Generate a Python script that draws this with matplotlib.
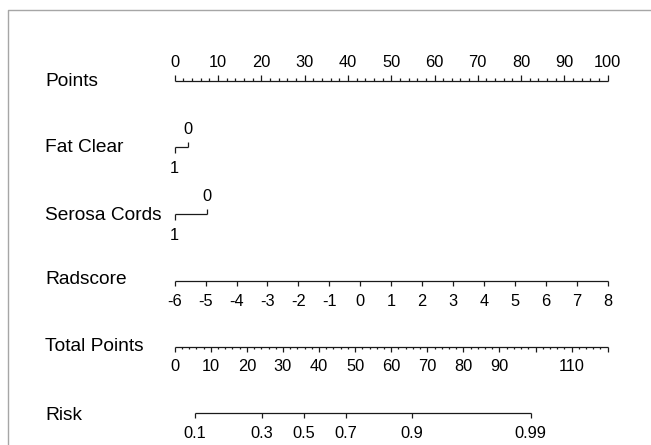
import numpy as np
import matplotlib
matplotlib.use("Agg")
import matplotlib.pyplot as plt

plt.rcParams['font.family'] = ['Liberation Sans', 'DejaVu Sans']

# ---- data ----
row_labels = ["Points", "Fat Clear", "Serosa Cords", "Radscore", "Total Points", "Risk"]
points_ticks = list(range(0, 101, 10))
points_minor = list(range(0, 101, 2))
fat_clear_levels = ["1", "0"]
fat_clear_points = [0.0, 3.1]
serosa_levels = ["1", "0"]
serosa_points = [0.0, 7.5]
radscore_ticks = list(range(-6, 9))
radscore_range = (-6, 8)          # maps to 0..100 points
total_max = 120
total_major = list(range(0, 121, 10))
total_minor = list(range(0, 121, 2))
total_labels = [0, 10, 20, 30, 40, 50, 60, 70, 80, 90, 110]
risk_ticks = [0.1, 0.3, 0.5, 0.7, 0.9, 0.99]
risk_labels = ["0.1", "0.3", "0.5", "0.7", "0.9", "0.99"]
risk_intercept_pts = 35.73   # total points where risk = 0.5
risk_pts_per_logit = 13.70

# ---- figure ----
W, H = 651, 445
fig = plt.figure(figsize=(W / 100, H / 100), dpi=100)
ax = fig.add_axes([0, 0, 1, 1])
px_per_pt = 4.33
x0px = 174.7
ax.set_xlim(-x0px / px_per_pt, (W - x0px) / px_per_pt)
ax.set_ylim(H, 0)
ax.axis('off')

lc = '#1a1a1a'
lw = 0.9
tick_fs = 11.8
lab_fs = 13.8
major_len = 5.5
minor_len = 2.6

def hline(x1, x2, y):
    ax.plot([x1, x2], [y, y], color=lc, lw=lw, solid_capstyle='butt')

def tick(x, y, length, up):
    ax.plot([x, x], [y, y - length if up else y + length], color=lc, lw=lw, solid_capstyle='butt')

def tlabel(x, y, s):
    ax.text(x, y, s, ha='center', va='center', fontsize=tick_fs, color='black')

# row labels
label_x = -(x0px - 45) / px_per_pt
row_y = [81.7, 148, 215, 280, 346.7, 415]
for s, y in zip(row_labels, row_y):
    ax.text(label_x, y, s, ha='left', va='center', fontsize=lab_fs, color='black')

# Points axis
y = 80.7
hline(0, 100, y)
for v in points_minor:
    tick(v, y, major_len if v % 10 == 0 else minor_len, True)
for v in points_ticks:
    tlabel(v, 62.7, str(v))

# Fat Clear
y = 147.3
hline(min(fat_clear_points), max(fat_clear_points), y)
for i, (lvl, p) in enumerate(zip(fat_clear_levels, fat_clear_points)):
    up = (i % 2 == 1)
    tick(p, y, major_len, up)
    tlabel(p, 129 if up else 168.3, lvl)

# Serosa Cords
y = 214
hline(min(serosa_points), max(serosa_points), y)
for i, (lvl, p) in enumerate(zip(serosa_levels, serosa_points)):
    up = (i % 2 == 1)
    tick(p, y, major_len, up)
    tlabel(p, 196.7 if up else 235, lvl)

# Radscore
def rad_to_pts(r):
    return (r - radscore_range[0]) / (radscore_range[1] - radscore_range[0]) * 100

y = 281
hline(rad_to_pts(radscore_ticks[0]), rad_to_pts(radscore_ticks[-1]), y)
for r in radscore_ticks:
    tick(rad_to_pts(r), y, major_len - 0.8, False)
    tlabel(rad_to_pts(r), 301.7, str(r))

# Total Points
def tot_to_pts(t):
    return t * 100.0 / total_max

y = 346.7
hline(0, tot_to_pts(total_max), y)
for t in total_minor:
    tick(tot_to_pts(t), y, major_len if t % 10 == 0 else minor_len, False)
for t in total_labels:
    tlabel(tot_to_pts(t), 366.7, str(t))

# Risk
def risk_to_pts(p):
    logit = np.log(p / (1 - p))
    return tot_to_pts(risk_intercept_pts + risk_pts_per_logit * logit)

y = 413.3
hline(risk_to_pts(risk_ticks[0]), risk_to_pts(risk_ticks[-1]), y)
for p, s in zip(risk_ticks, risk_labels):
    tick(risk_to_pts(p), y, major_len - 0.8, False)
    tlabel(risk_to_pts(p), 433.5, s)

# gray frame (left and top)
fig.add_artist(plt.Line2D([7.5 / W, 7.5 / W, 1.0], [0.0, 1 - 9.5 / H, 1 - 9.5 / H],
                          transform=fig.transFigure, color='#a6a6a6', lw=1.0))

fig.savefig('out.png', dpi=100)
